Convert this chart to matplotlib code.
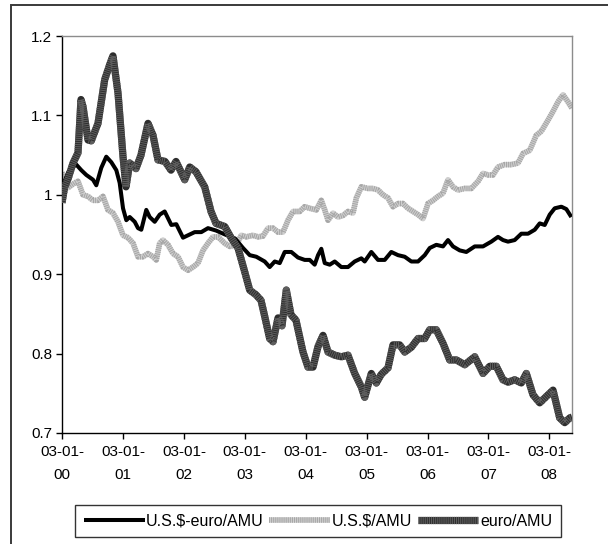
import numpy as np
import pandas as pd
import matplotlib
matplotlib.use("Agg")
import matplotlib.pyplot as plt
from matplotlib.patches import Rectangle
from matplotlib.legend_handler import HandlerTuple

plt.rcParams["font.family"] = ["Liberation Sans", "DejaVu Sans"]
plt.rcParams["font.size"] = 11
plt.rcParams["lines.scale_dashes"] = False

# ---- data (time in years since 03-01-2000) ----
t_usd_euro = [0.000, 0.044, 0.099, 0.153, 0.235, 0.317, 0.399, 0.509, 0.563, 0.645,
              0.727, 0.810, 0.892, 0.947, 1.002, 1.056, 1.112, 1.194, 1.248, 1.302,
              1.384, 1.440, 1.522, 1.604, 1.686, 1.795, 1.877, 1.987, 2.069, 2.179,
              2.287, 2.397, 2.529, 2.677, 2.841, 2.972, 3.082, 3.190, 3.328, 3.410,
              3.493, 3.575, 3.657, 3.765, 3.875, 3.985, 4.067, 4.149, 4.204, 4.258,
              4.314, 4.396, 4.478, 4.586, 4.696, 4.806, 4.915, 4.970, 5.079, 5.189,
              5.299, 5.407, 5.517, 5.627, 5.736, 5.846, 5.956, 6.038, 6.146, 6.256,
              6.338, 6.420, 6.530, 6.639, 6.777, 6.913, 7.049, 7.159, 7.241, 7.323,
              7.433, 7.542, 7.652, 7.762, 7.844, 7.926, 8.008, 8.090, 8.199, 8.281,
              8.363]
v_usd_euro = [1.010, 1.017, 1.028, 1.034, 1.038, 1.031, 1.025, 1.019, 1.012, 1.034,
              1.048, 1.041, 1.031, 1.015, 0.983, 0.968, 0.972, 0.966, 0.958, 0.956,
              0.981, 0.972, 0.966, 0.975, 0.979, 0.962, 0.963, 0.946, 0.949, 0.953,
              0.953, 0.958, 0.955, 0.950, 0.945, 0.933, 0.924, 0.922, 0.916, 0.909,
              0.916, 0.914, 0.928, 0.928, 0.921, 0.918, 0.918, 0.912, 0.924, 0.932,
              0.914, 0.912, 0.916, 0.909, 0.909, 0.916, 0.920, 0.916, 0.928, 0.918,
              0.918, 0.928, 0.924, 0.922, 0.916, 0.916, 0.924, 0.933, 0.937, 0.935,
              0.943, 0.935, 0.930, 0.928, 0.935, 0.935, 0.941, 0.947, 0.943, 0.941,
              0.943, 0.951, 0.951, 0.956, 0.964, 0.962, 0.975, 0.983, 0.985, 0.982,
              0.972]

t_usd = [0.000, 0.099, 0.209, 0.263, 0.345, 0.427, 0.509, 0.591, 0.673, 0.755,
         0.837, 0.920, 1.002, 1.084, 1.166, 1.248, 1.330, 1.412, 1.494, 1.548,
         1.604, 1.658, 1.741, 1.823, 1.905, 1.987, 2.069, 2.151, 2.233, 2.315,
         2.397, 2.479, 2.562, 2.672, 2.754, 2.862, 2.944, 3.026, 3.136, 3.218,
         3.300, 3.383, 3.465, 3.547, 3.629, 3.711, 3.793, 3.903, 3.985, 4.067,
         4.176, 4.258, 4.314, 4.368, 4.450, 4.532, 4.614, 4.696, 4.778, 4.833,
         4.915, 5.025, 5.107, 5.189, 5.271, 5.353, 5.435, 5.517, 5.599, 5.681,
         5.764, 5.846, 5.928, 6.010, 6.092, 6.174, 6.256, 6.338, 6.420, 6.502,
         6.612, 6.721, 6.831, 6.913, 6.995, 7.077, 7.159, 7.269, 7.378, 7.488,
         7.570, 7.680, 7.788, 7.870, 7.980, 8.062, 8.144, 8.227, 8.309, 8.374]
v_usd = [1.028, 1.009, 1.015, 1.017, 1.000, 0.998, 0.993, 0.993, 0.998, 0.981,
         0.977, 0.966, 0.949, 0.946, 0.939, 0.922, 0.922, 0.926, 0.922, 0.918,
         0.939, 0.943, 0.937, 0.926, 0.922, 0.909, 0.905, 0.909, 0.914, 0.930,
         0.939, 0.947, 0.947, 0.939, 0.935, 0.937, 0.949, 0.947, 0.949, 0.947,
         0.948, 0.958, 0.958, 0.953, 0.953, 0.968, 0.979, 0.979, 0.985, 0.983,
         0.981, 0.993, 0.981, 0.968, 0.977, 0.972, 0.974, 0.979, 0.977, 0.996,
         1.010, 1.008, 1.008, 1.006, 1.000, 0.996, 0.985, 0.989, 0.989, 0.983,
         0.979, 0.975, 0.970, 0.989, 0.993, 0.998, 1.002, 1.019, 1.010, 1.006,
         1.008, 1.008, 1.017, 1.027, 1.025, 1.025, 1.035, 1.038, 1.038, 1.040,
         1.052, 1.056, 1.075, 1.080, 1.094, 1.105, 1.117, 1.126, 1.117, 1.109]

t_euro = [0.000, 0.044, 0.099, 0.181, 0.263, 0.312, 0.345, 0.427, 0.481, 0.591,
          0.701, 0.788, 0.837, 0.920, 1.002, 1.051, 1.112, 1.215, 1.297, 1.412,
          1.494, 1.576, 1.691, 1.790, 1.872, 2.015, 2.097, 2.200, 2.343, 2.447,
          2.529, 2.672, 2.775, 2.890, 3.000, 3.082, 3.186, 3.268, 3.328, 3.410,
          3.465, 3.547, 3.612, 3.683, 3.760, 3.842, 3.957, 4.039, 4.122, 4.204,
          4.286, 4.368, 4.478, 4.586, 4.696, 4.806, 4.915, 4.970, 5.079, 5.161,
          5.243, 5.353, 5.435, 5.545, 5.627, 5.736, 5.846, 5.956, 6.038, 6.146,
          6.256, 6.366, 6.474, 6.612, 6.777, 6.913, 7.023, 7.131, 7.241, 7.323,
          7.433, 7.542, 7.624, 7.734, 7.844, 7.952, 8.062, 8.172, 8.255, 8.337,
          8.374]
v_euro = [0.990, 1.010, 1.020, 1.040, 1.053, 1.120, 1.111, 1.069, 1.068, 1.090,
          1.145, 1.165, 1.175, 1.128, 1.048, 1.010, 1.040, 1.033, 1.050, 1.090,
          1.075, 1.044, 1.042, 1.031, 1.042, 1.019, 1.035, 1.029, 1.010, 0.979,
          0.964, 0.960, 0.946, 0.933, 0.903, 0.880, 0.874, 0.867, 0.847, 0.819,
          0.815, 0.845, 0.835, 0.880, 0.849, 0.842, 0.802, 0.783, 0.783, 0.809,
          0.823, 0.802, 0.798, 0.796, 0.798, 0.775, 0.758, 0.745, 0.775, 0.763,
          0.774, 0.782, 0.811, 0.811, 0.802, 0.808, 0.819, 0.819, 0.830, 0.830,
          0.813, 0.792, 0.792, 0.786, 0.796, 0.775, 0.784, 0.784, 0.767, 0.764,
          0.767, 0.763, 0.775, 0.748, 0.738, 0.746, 0.754, 0.719, 0.713, 0.719,
          0.720]

series_labels = ["U.S.$-euro/AMU", "U.S.$/AMU", "euro/AMU"]
tick_years = [2000, 2001, 2002, 2003, 2004, 2005, 2006, 2007, 2008]
tick_labels = ["03-01-\n00", "03-01-\n01", "03-01-\n02", "03-01-\n03", "03-01-\n04",
               "03-01-\n05", "03-01-\n06", "03-01-\n07", "03-01-\n08"]
y_ticks = [0.7, 0.8, 0.9, 1.0, 1.1, 1.2]
y_tick_labels = ["0.7", "0.8", "0.9", "1", "1.1", "1.2"]

start = pd.Timestamp("2000-01-03")
t_end = 8.374


def to_dates(t):
    return start + pd.to_timedelta(np.asarray(t) * 365.25, unit="D")


def striped_line(ax, x, y, base, stripe, lw, z):
    """Thick line with fine cross stripes, like a dense daily series."""
    l1, = ax.plot(x, y, color=base, lw=lw, solid_capstyle="butt",
                  solid_joinstyle="round", zorder=z)
    l2, = ax.plot(x, y, color=stripe, lw=lw, dashes=(0.75, 0.75),
                  dash_capstyle="butt", zorder=z + 0.1)
    return (l1, l2)


fig = plt.figure(figsize=(6.08, 5.44), dpi=100)
fig.patch.set_facecolor("white")

# outer chart frame
fig.add_artist(Rectangle((11 / 608, -0.05), 1.2, 1 - 5 / 544 + 0.05,
                         transform=fig.transFigure, fill=False,
                         edgecolor="#3a3a3a", linewidth=1.4))

ax = fig.add_axes([62 / 608, 1 - 433 / 544, (572 - 62) / 608, (433 - 36) / 544])

h_black, = ax.plot(to_dates(t_usd_euro), v_usd_euro, color="black", lw=2.9,
                   solid_joinstyle="round", solid_capstyle="butt", zorder=3)
h_gray = striped_line(ax, to_dates(t_usd), v_usd, "#cfcfcf", "#a6a6a6", 4.0, 2)
h_dark = striped_line(ax, to_dates(t_euro), v_euro, "#2e2e2e", "#5e5e5e", 5.2, 4)

ax.set_ylim(0.7, 1.2)
ax.set_yticks(y_ticks)
ax.set_yticklabels(y_tick_labels)
ax.set_xlim(start, to_dates([t_end])[0])
ax.set_xticks([pd.Timestamp(f"{y}-01-03") for y in tick_years])
ax.set_xticklabels(tick_labels, linespacing=1.75)

for side in ("top", "right"):
    ax.spines[side].set_color("#8c8c8c")
    ax.spines[side].set_linewidth(1.0)
for side in ("left", "bottom"):
    ax.spines[side].set_color("black")
    ax.spines[side].set_linewidth(1.0)

ax.tick_params(axis="both", direction="out", length=4, width=1, colors="black",
               labelsize=11)
ax.tick_params(axis="x", pad=5)
ax.tick_params(axis="y", pad=3)

leg = fig.legend([h_black, h_gray, h_dark], series_labels,
                 handler_map={tuple: HandlerTuple(ndivide=1, pad=0)},
                 loc="center", bbox_to_anchor=(318 / 608, 1 - 521 / 544),
                 ncol=3, frameon=True, fancybox=False, handlelength=3.8,
                 handletextpad=0.1, columnspacing=0.35, borderpad=0.55,
                 borderaxespad=0, fontsize=11.5)
leg.get_frame().set_edgecolor("black")
leg.get_frame().set_linewidth(1.0)

fig.savefig("out.png", dpi=100)
